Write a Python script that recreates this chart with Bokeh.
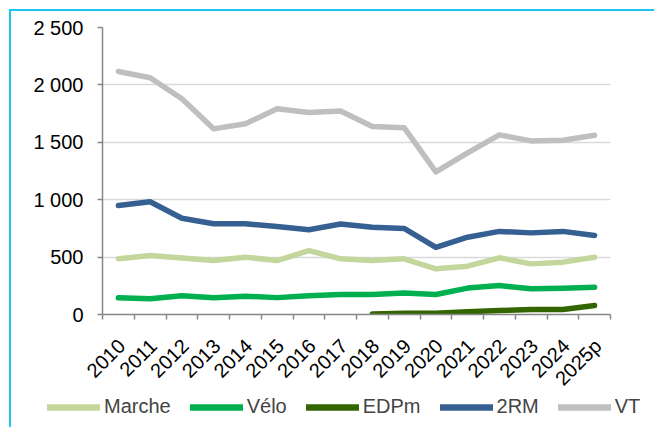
import math
from bokeh.plotting import figure
from bokeh.models import FixedTicker, Legend, LegendItem, ColumnDataSource
from bokeh.embed import file_html
from bokeh.resources import INLINE

years = ["2010", "2011", "2012", "2013", "2014", "2015", "2016", "2017",
         "2018", "2019", "2020", "2021", "2022", "2023", "2024", "2025p"]
marche = [485, 514, 492, 470, 499, 470, 557, 485, 470, 485, 398, 421, 494, 441, 456, 499]
velo = [145, 138, 163, 145, 160, 147, 163, 174, 174, 187, 174, 230, 252, 224, 228, 238]
nan = float("nan")
edpm = [nan, nan, nan, nan, nan, nan, nan, nan, 5, 10, 10, 23, 35, 43, 44, 78]
deux_rm = [949, 982, 838, 790, 790, 767, 738, 788, 760, 750, 584, 673, 724, 711, 724, 688]
vt = [2117, 2062, 1879, 1617, 1661, 1792, 1760, 1772, 1638, 1627, 1242, 1408, 1565, 1512, 1518, 1562]

y_ticks = [0, 500, 1000, 1500, 2000, 2500]
y_tick_labels = ["0", "500", "1 000", "1 500", "2 000", "2 500"]

series_names = ["Marche", "Vélo", "EDPm", "2RM", "VT"]
series_colors = ["#C3D69B", "#00B050", "#336600", "#376092", "#BFBFBF"]

n = len(years)
xs = [i + 0.5 for i in range(n)]
label_pos = [i + 0.6 for i in range(n)]
src = ColumnDataSource(dict(x=xs, marche=marche, velo=velo, edpm=edpm, rm=deux_rm, vt=vt))
cols = ["marche", "velo", "edpm", "rm", "vt"]

FONT = "Liberation Sans"
CYAN = "#1CC6F2"

p = figure(width=645, height=391, x_range=(0, n), y_range=(0, 2500),
           output_backend="svg", toolbar_location=None,
           min_border_left=91, min_border_right=46, min_border_top=16, min_border_bottom=88)
p.styles = {"border-left": "2px solid " + CYAN, "border-top": "2px solid " + CYAN,
            "margin-left": "9px", "margin-top": "9px"}
p.outline_line_color = None
p.background_fill_color = "white"
p.border_fill_color = "white"

# axes
p.xaxis.ticker = FixedTicker(ticks=label_pos, minor_ticks=list(range(n + 1)))
p.xaxis.major_label_overrides = {x: y for x, y in zip(label_pos, years)}
p.xaxis.major_label_orientation = math.pi / 4
p.xaxis.major_tick_out = 0
p.xaxis.major_tick_in = 0
p.xaxis.minor_tick_out = 5
p.xaxis.minor_tick_in = 0
p.xaxis.minor_tick_line_color = "#868686"
p.xaxis.minor_tick_line_width = 1.5
p.xaxis.axis_line_color = "#868686"
p.xaxis.axis_line_width = 1.5
p.xaxis.major_label_standoff = 23

p.yaxis.ticker = FixedTicker(ticks=y_ticks)
p.yaxis.major_label_overrides = {t: l for t, l in zip(y_ticks, y_tick_labels)}
p.yaxis.major_tick_out = 5
p.yaxis.major_tick_in = 0
p.yaxis.minor_tick_out = 0
p.yaxis.minor_tick_in = 0
p.yaxis.major_tick_line_color = "#868686"
p.yaxis.major_tick_line_width = 1.5
p.yaxis.axis_line_color = "#868686"
p.yaxis.axis_line_width = 1.5
p.yaxis.major_label_standoff = 14

for ax in (p.xaxis, p.yaxis):
    ax.major_label_text_font = FONT
    ax.major_label_text_font_size = "20px"
    ax.major_label_text_color = "black"

p.xgrid.grid_line_color = None
p.ygrid.ticker = FixedTicker(ticks=y_ticks[1:])
p.ygrid.grid_line_color = "#D9D9D9"
p.ygrid.grid_line_width = 1.5

for col, name, color in zip(cols, series_names, series_colors):
    p.line("x", col, source=src, line_color=color, line_width=5.5,
           line_join="round", line_cap="round")

# legend strip (separate root below the chart; its series lie outside its ranges)
p2 = figure(width=645, height=35, x_range=(0, 1), y_range=(-1, 0),
            output_backend="svg", toolbar_location=None,
            x_axis_location=None, y_axis_location=None,
            min_border=0, min_border_left=0, min_border_right=0,
            min_border_top=0, min_border_bottom=0)
p2.styles = {"border-left": "2px solid " + CYAN, "margin-left": "9px", "margin-top": "-8px"}
p2.outline_line_color = None
p2.grid.grid_line_color = None
p2.background_fill_alpha = 0
p2.border_fill_alpha = 0
items = []
for col, name, color in zip(cols, series_names, series_colors):
    r = p2.line("x", col, source=src, line_color=color, line_width=6.5, line_cap="round")
    items.append(LegendItem(label=name, renderers=[r]))
legend = Legend(items=items, orientation="horizontal", location=(36, 9),
                glyph_width=53, glyph_height=20, label_height=20, label_standoff=4,
                spacing=19, padding=0, margin=0,
                label_text_font=FONT, label_text_font_size="20px",
                border_line_color=None, background_fill_alpha=0)
p2.add_layout(legend)

open("out.html", "w").write(file_html([p, p2], INLINE))
